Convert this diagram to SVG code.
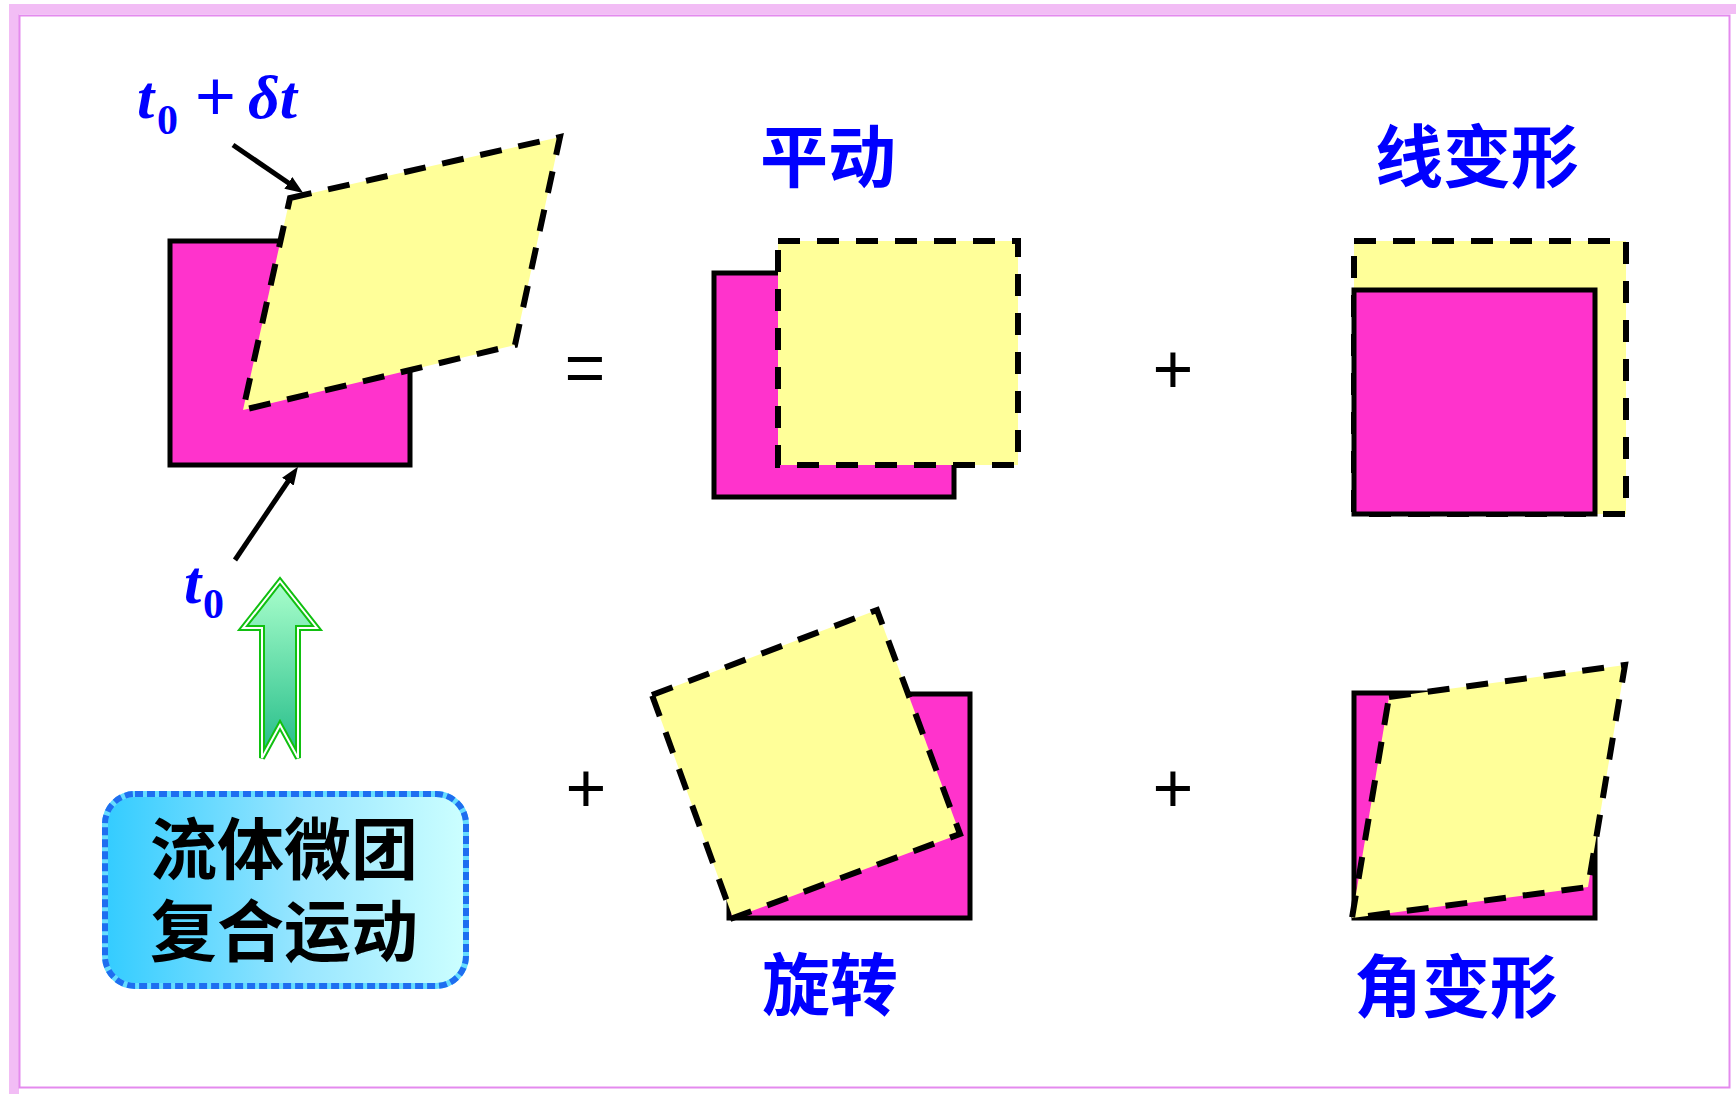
<svg xmlns="http://www.w3.org/2000/svg" width="1736" height="1094" viewBox="0 0 1736 1094">
<defs>
<style>
.mag{fill:#FF33CC;stroke:#000;stroke-width:5}
.yel{fill:#FFFF99;stroke:#000;stroke-width:6;stroke-dasharray:22 17}
.cn{font-family:"Noto Sans CJK SC","Noto Sans",sans-serif;font-weight:700;font-size:68px;fill:#0000FF;text-anchor:middle}
.math{font-family:"Liberation Serif","Times New Roman",serif;fill:#0000FF}
.it{font-style:italic;font-weight:700;font-size:62px}
.sub{font-weight:700;font-size:42px}
.op{font-family:"Liberation Sans",Arial,sans-serif;font-size:70px;fill:#000;text-anchor:middle}
.conn{stroke:#000;stroke-width:5;fill:none}
.box{font-family:"Noto Sans CJK SC",sans-serif;font-weight:700;font-size:67px;fill:#000;text-anchor:middle}
</style>
<marker id="ah" markerUnits="userSpaceOnUse" markerWidth="18" markerHeight="14" refX="2" refY="7" orient="auto">
<path d="M0,0 L18,7 L0,14 z" fill="#000"/>
</marker>
<linearGradient id="boxg" x1="0" y1="0" x2="1" y2="0">
<stop offset="0" stop-color="#33CCFF"/>
<stop offset="0.55" stop-color="#99E6FF"/>
<stop offset="1" stop-color="#CCFFFF"/>
</linearGradient>
<linearGradient id="arrg" x1="0" y1="0" x2="0" y2="1">
<stop offset="0" stop-color="#AAFFCC"/>
<stop offset="1" stop-color="#22BB88"/>
</linearGradient>
</defs>
<rect width="1736" height="1094" fill="#fff"/>
<g id="frame">
<rect x="14" y="9" width="1730" height="1090" fill="none" stroke="#F2BDF5" stroke-width="10"/>
<rect x="19.5" y="15.5" width="1710" height="1072" fill="none" stroke="#E48AEE" stroke-width="2"/>
</g>
<g id="original">
<rect class="mag" x="170" y="241" width="240" height="224"/>
<polygon class="yel" points="290,198 560,137 515,345 243,410"/>
</g>
<g id="label-t0dt">
<text class="math" y="118"><tspan class="it" x="137">t</tspan><tspan class="sub" x="157" y="134">0</tspan><tspan x="195" y="120" font-family="Liberation Sans, sans-serif" font-size="70">+</tspan><tspan class="it" x="248" y="118">δt</tspan></text>
</g>
<g id="label-t0">
<text class="math" y="603"><tspan class="it" x="184">t</tspan><tspan class="sub" x="203" y="618">0</tspan></text>
</g>
<g id="translation">
<rect class="mag" x="714" y="273" width="240" height="224"/>
<rect class="yel" x="778" y="241" width="240" height="224"/>
<text class="cn" x="828" y="182">平动</text>
</g>
<g id="linear-deformation">
<rect class="yel" x="1354" y="241" width="272" height="273"/>
<rect class="mag" x="1354" y="290" width="241" height="224"/>
<text class="cn" x="1477" y="182">线变形</text>
</g>
<g id="rotation">
<rect class="mag" x="729" y="694" width="241" height="224"/>
<polygon class="yel" points="652,695 877,610 960,834 733,918"/>
<text class="cn" x="830" y="1010">旋转</text>
</g>
<g id="angular-deformation">
<rect class="mag" x="1354" y="693" width="241" height="225"/>
<polygon class="yel" points="1389,697 1625,665 1588,887 1352,918"/>
<text class="cn" x="1456" y="1012">角变形</text>
</g>
<g id="operators">
<text class="op" x="585" y="392">=</text>
<text class="op" x="1173" y="393">+</text>
<text class="op" x="586" y="812">+</text>
<text class="op" x="1173" y="812">+</text>
</g>
<g id="composite-box">
<rect x="105" y="794" width="361" height="192" rx="30" fill="url(#boxg)" stroke="#66DDFF" stroke-width="6"/>
<rect x="105" y="794" width="361" height="192" rx="30" fill="none" stroke="#1E6EF0" stroke-width="6" stroke-dasharray="8 4"/>
<text class="box"><tspan x="284" y="874">流体微团</tspan><tspan x="284" y="956">复合运动</tspan></text>
</g>
<g id="green-arrow">
<path d="M280,581 L317,628 L298,628 L298,758 L280,725 L262,758 L262,628 L243,628 Z" fill="url(#arrg)" stroke="#11C011" stroke-width="6" stroke-linejoin="miter"/>
<path d="M280,581 L317,628 L298,628 L298,758 L280,725 L262,758 L262,628 L243,628 Z" fill="none" stroke="#fff" stroke-width="2"/>
</g>
<g id="connectors">
<line class="conn" x1="233" y1="145" x2="290" y2="184" marker-end="url(#ah)"/>
<line class="conn" x1="235" y1="560" x2="289" y2="480" marker-end="url(#ah)"/>
</g>
</svg>
